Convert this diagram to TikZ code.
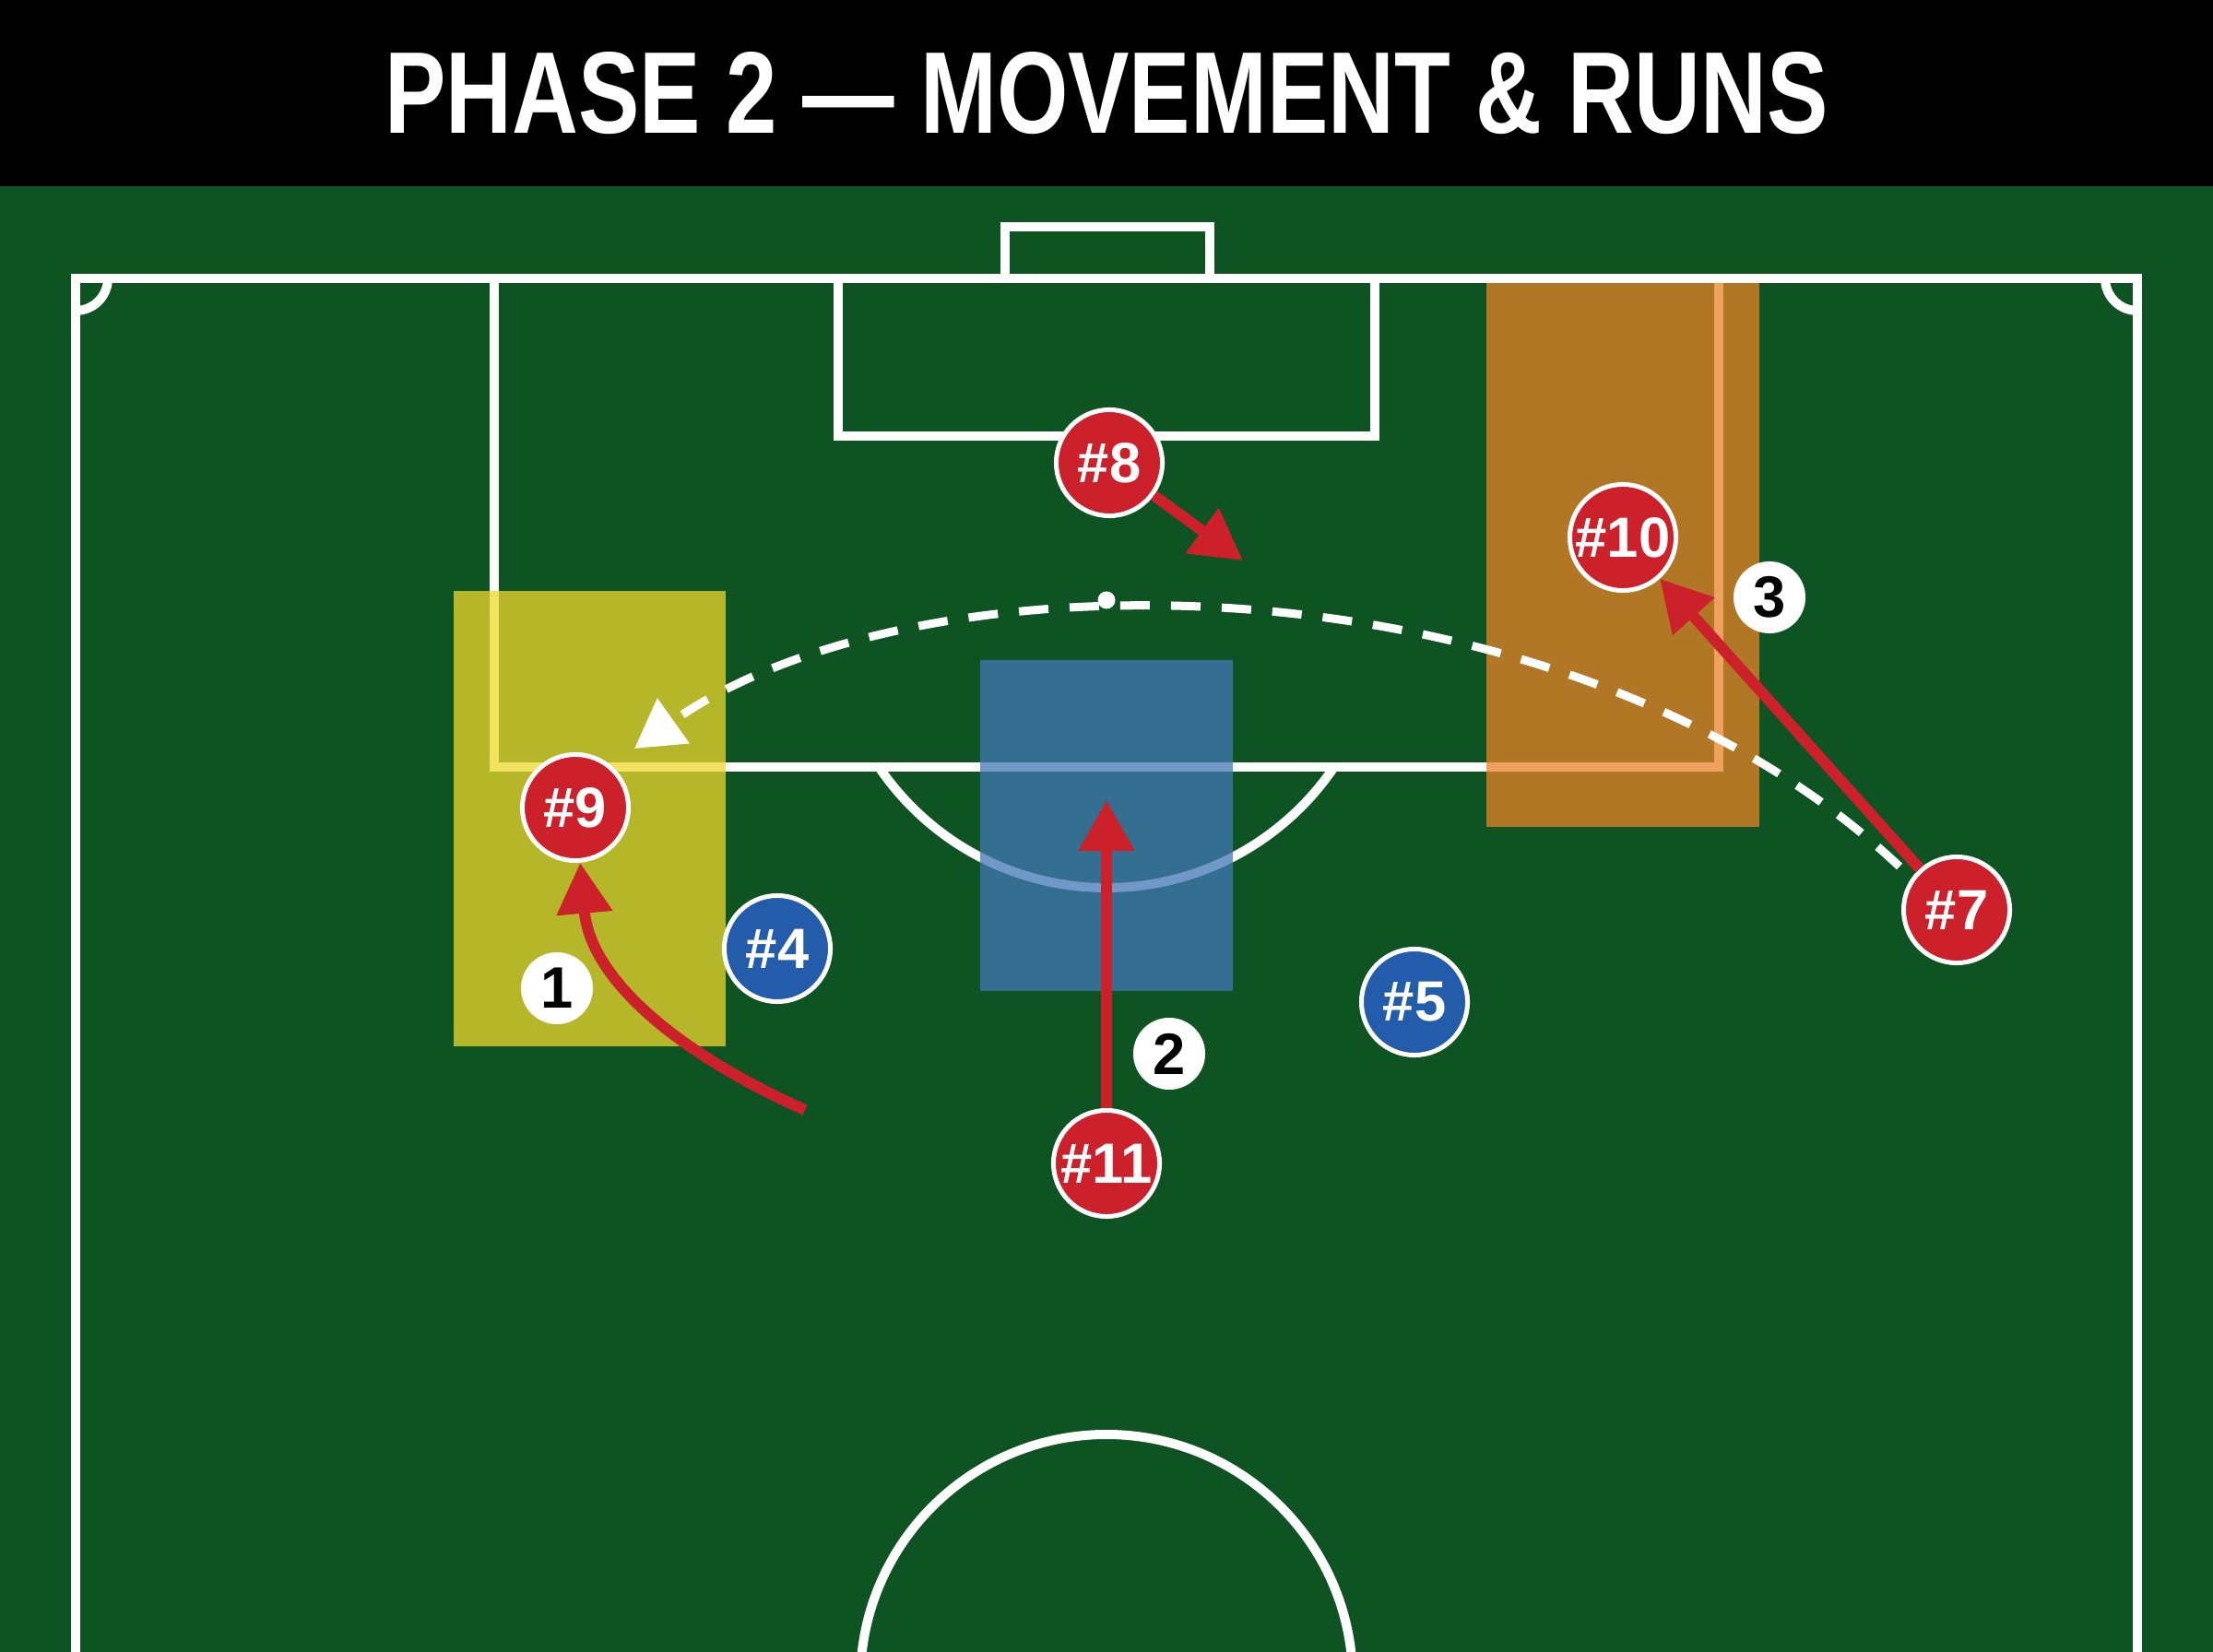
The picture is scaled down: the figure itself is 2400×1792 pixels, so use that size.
\documentclass[tikz,border=0pt]{standalone}
\usepackage{fontspec}
\setmainfont{Liberation Sans}
\usepackage{graphicx}
\usetikzlibrary{arrows.meta}
\definecolor{grass}{RGB}{14,84,34}
\definecolor{kitred}{RGB}{204,32,42}
\definecolor{kitblue}{RGB}{36,92,172}
\definecolor{zoneyellow}{RGB}{237,217,43}
\definecolor{zoneblue}{RGB}{65,119,182}
\definecolor{zoneorange}{RGB}{233,132,39}

\begin{document}
\begin{tikzpicture}[x=0.01cm, y=-0.01cm,
  pitchline/.style={draw=white, line width=1mm},
  zone/.style={opacity=0.75},
  player/.style={circle, draw=white, line width=0.5mm, minimum size=11.5mm, inner sep=0pt, text=white, font=\bfseries\fontsize{17.5}{18}\selectfont},
  home/.style={player, fill=kitred},
  away/.style={player, fill=kitblue},
  badge/.style={circle, fill=white, minimum size=7.8mm, inner sep=0pt, font=\bfseries\fontsize{18}{18}\selectfont},
  run/.style={draw=kitred, line width=1.2mm, -{Triangle[length=5.5mm,width=5.8mm]}},
  pass/.style={draw=white, line width=0.9mm, dash pattern=on 3.2mm off 2.3mm, -{Triangle[length=5.2mm,width=5.8mm,fill=white]}}]
 \useasboundingbox (0,0) rectangle (2400,1792);
 \fill[grass] (0,0) rectangle (2400,1792);
 \fill[black] (0,0) rectangle (2400,202);
 \node[text=white, inner sep=0pt] (title) at (1200,101) {\resizebox{15.64cm}{0.88cm}{\bfseries PHASE 2 — MOVEMENT \& RUNS}};

 \draw[pitchline] (82,1800) -- (82,302) -- (2318,302) -- (2318,1800);
 \draw[pitchline] (536,302) -- (536,832) -- (1864,832) -- (1864,302);
 \draw[pitchline] (909,302) -- (909,473) -- (1491,473) -- (1491,302);
 \draw[pitchline] (1090,302) -- (1090,246) -- (1312,246) -- (1312,302);
 \begin{scope}
  \clip (0,832) rectangle (2400,1792);
  \draw[pitchline] (1200,665) circle[radius=298];
 \end{scope}
 \begin{scope}
  \clip (82,302) rectangle (2318,1792);
  \draw[pitchline] (82,302) circle[radius=35];
  \draw[pitchline] (2318,302) circle[radius=35];
 \end{scope}
 \draw[pitchline] (1200,1823) circle[radius=267];

 \fill[zone, zoneyellow] (492,641) rectangle (787,1135);
 \fill[zone, zoneblue] (1063,716) rectangle (1337,1075);
 \fill[zone, zoneorange] (1612,307) rectangle (1908,897);

 \node[home] (p8) at (1203,502) {\#8};
 \node[home] (p10) at (1760,583) {\#10};
 \node[home] (p9) at (624,876) {\#9};
 \node[home] (p7) at (2122,987) {\#7};
 \node[home] (p11) at (1200,1262) {\#11};
 \node[away] (p4) at (843,1029) {\#4};
 \node[away] (p5) at (1534,1087) {\#5};
 \node[badge] (b1) at (604,1072) {1};
 \node[badge] (b2) at (1268,1143) {2};
 \node[badge] (b3) at (1919,648) {3};

 \coordinate (ps) at (2060,940);
 \coordinate (pe) at (688,812);
 \coordinate (t8) at (1348,608);
 \coordinate (t11) at (1200,868);
 \coordinate (s9) at (873,1204);
 \draw[pass] (ps) .. controls (1700,600) and (1000,590) .. (pe);
 \node[circle, fill=white, minimum size=1.9mm, inner sep=0pt] (ball) at (1200,651) {};
 \draw[run] (p8) -- (t8);
 \draw[run] (p11) -- (t11);
 \draw[run] (p7) -- (p10);
 \draw[run] (s9) .. controls (730,1140) and (640,1060) .. (p9);
\end{tikzpicture}
\end{document}
